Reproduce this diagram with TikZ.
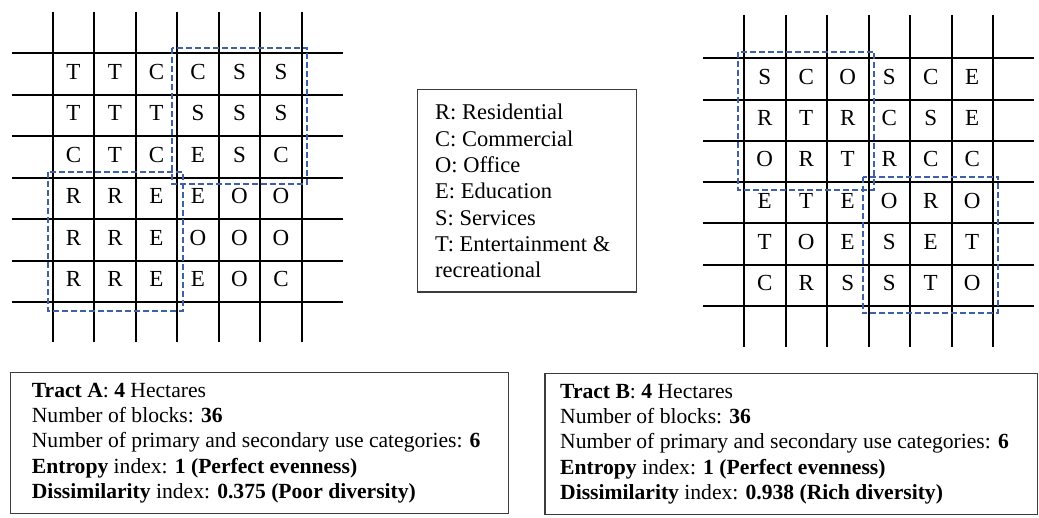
\documentclass[tikz,border=0pt]{standalone}
\usepackage{fontspec}
\setmainfont{Liberation Serif}
\definecolor{dashblue}{RGB}{62,96,170}
\definecolor{framegray}{RGB}{60,60,60}
\tikzset{
  gridline/.style={line width=2pt, black},
  zonebox/.style={draw=dashblue, line width=2pt, dash pattern=on 6pt off 3pt},
  cell/.style={anchor=base, inner sep=0pt, font=\fontsize{23}{26}\selectfont},
  frame/.style={draw=framegray, line width=1.4pt, anchor=north west, inner sep=0pt},
  legline/.style={anchor=base west, inner sep=0pt, font=\fontsize{22.5}{26}\selectfont},
  infoline/.style={anchor=base west, inner sep=0pt, font=\fontsize{21.6}{25}\selectfont},
}
\begin{document}
\begin{tikzpicture}[x=1pt,y=-1pt]
\useasboundingbox (0,0) rectangle (1039,518);
% ---------- Tract A grid ----------
\foreach \i in {0,...,6} {
  \draw[gridline] ({52.7+41.5*\i},11.7) -- ({52.7+41.5*\i},341.7);
  \draw[gridline] (11.7,{53.3+41.5*\i}) -- (342.7,{53.3+41.5*\i});
}
\foreach \row [count=\r] in {{T,T,C,C,S,S},{T,T,T,S,S,S},{C,T,C,E,S,C},{R,R,E,E,O,O},{R,R,E,O,O,O},{R,R,E,E,O,C}} {
  \foreach \l [count=\c] in \row {
    \node[cell] (A-\r-\c) at ({73.45+41.5*(\c-1)},{79.5+41.5*(\r-1)}) {\l};
  }
}
\draw[zonebox] (171.7,47.7) rectangle (306.7,183.7);
\draw[zonebox] (48.3,171.7) rectangle (183,311);
% ---------- Tract B grid ----------
\foreach \i in {0,...,6} {
  \draw[gridline] ({744+41.5*\i},15) -- ({744+41.5*\i},346.7);
  \draw[gridline] (703.3,{58.3+41.3*\i}) -- (1034,{58.3+41.3*\i});
}
\foreach \row [count=\r] in {{S,C,O,S,C,E},{R,T,R,C,S,E},{O,R,T,R,C,C},{E,T,E,O,R,O},{T,O,E,S,E,T},{C,R,S,S,T,O}} {
  \foreach \l [count=\c] in \row {
    \node[cell] (B-\r-\c) at ({764.75+41.5*(\c-1)},{84.2+41.3*(\r-1)}) {\l};
  }
}
\draw[zonebox] (738.3,51.7) rectangle (874.3,190);
\draw[zonebox] (862.7,176.7) rectangle (998.3,313.3);
% ---------- Legend ----------
\node[frame, minimum width=219pt, minimum height=202.5pt] (legend) at (417,89) {};
\node[legline] (leg1) at (435,120) {R: Residential};
\node[legline] (leg2) at (435,146.3) {C: Commercial};
\node[legline] (leg3) at (435,172.6) {O: Office};
\node[legline] (leg4) at (435,198.9) {E: Education};
\node[legline] (leg5) at (435,225.2) {S: Services};
\node[legline] (leg6) at (435,251.5) {T: Entertainment \&};
\node[legline] (leg7) at (435,277.8) {recreational};
% ---------- Info box A ----------
\node[frame, minimum width=498.5pt, minimum height=141pt] (infoA) at (9.5,372) {};
\node[infoline] (a1) at (31.7,398) {\textbf{Tract A}: \textbf{4} Hectares};
\node[infoline] (a2) at (31.7,423) {Number of blocks: \textbf{36}};
\node[infoline] (a3) at (31.7,448) {Number of primary and secondary use categories: \textbf{6}};
\node[infoline] (a4) at (31.7,473) {\textbf{Entropy} index: \textbf{1 (Perfect evenness)}};
\node[infoline] (a5) at (31.7,498) {\textbf{Dissimilarity} index: \textbf{0.375 (Poor diversity)}};
% ---------- Info box B ----------
\node[frame, minimum width=492.5pt, minimum height=141pt] (infoB) at (544.3,373) {};
\node[infoline] (b1) at (560,399) {\textbf{Tract B}: \textbf{4} Hectares};
\node[infoline] (b2) at (560,424) {Number of blocks: \textbf{36}};
\node[infoline] (b3) at (560,449) {Number of primary and secondary use categories: \textbf{6}};
\node[infoline] (b4) at (560,474) {\textbf{Entropy} index: \textbf{1 (Perfect evenness)}};
\node[infoline] (b5) at (560,499) {\textbf{Dissimilarity} index: \textbf{0.938 (Rich diversity)}};
\end{tikzpicture}
\end{document}
